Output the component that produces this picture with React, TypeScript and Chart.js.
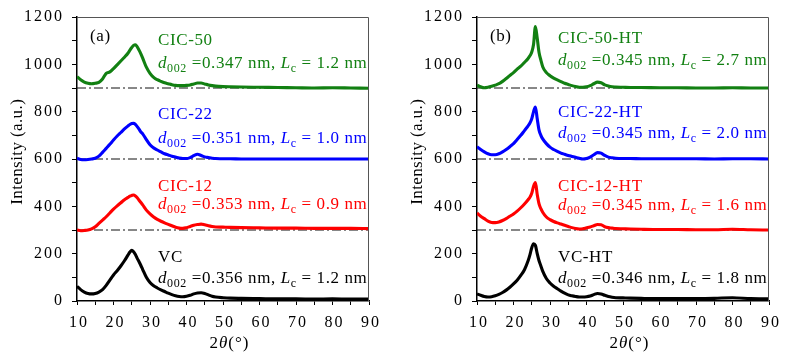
import React, { useEffect, useRef } from 'react';
import { Chart, registerables } from 'chart.js';
Chart.register(...registerables);

// ---------- data ----------
const twoTheta = [10,11,12,13,14,15,16,17,18,19,20,21,22,23,24,24.5,25,25.5,26,26.5,27,27.5,28,29,30,31,32,33,34,35,36,37,38,39,40,41,42,43,44,45,46,47,48,50,52,55,60,65,70,75,80,85,90];

const cic50 = [948,935,925,920,918,920,924,938,962,968,982,998,1014,1030,1048,1060,1071,1080,1083,1074,1060,1044,1026,988,962,945,935,928,922,918,914,911,910,910,911,913,917,921,921,917,913,910,908,906,905,904,903,902,901,900,901,900,899];
const cic22 = [603,598,597,598,600,603,612,628,645,662,680,697,712,727,740,746,750,751,746,737,726,714,706,682,660,647,638,630,622,617,612,608,604,602,602,606,614,620,615,609,606,603,602,601,601,600,600,600,600,600,600,600,600];
const cic12 = [300,297,298,300,305,314,328,342,356,372,388,402,415,428,438,443,446,448,444,436,426,416,406,384,368,355,345,337,330,324,318,312,308,307,310,315,320,323,325,322,318,315,313,312,311,310,309,308,308,307,307,307,306];
const vc = [62,48,38,32,30,32,38,48,66,88,110,128,148,170,195,207,214,208,196,180,166,150,133,100,78,64,55,47,40,33,27,22,19,18,20,24,30,34,35,32,26,20,17,14,12,11,10,9,9,8,9,8,8];

const cic50ht = [912,905,901,903,907,912,918,928,940,953,965,980,992,1008,1025,1036,1052,1085,1160,1110,1050,1018,990,965,952,942,934,927,920,915,910,906,903,903,905,910,918,925,922,913,908,905,904,903,902,902,901,901,900,900,901,900,900];
const cic22ht = [652,640,630,622,618,618,622,630,640,652,665,682,700,720,740,752,770,800,820,770,722,700,685,665,650,640,632,625,620,615,611,607,603,600,602,608,618,627,625,615,608,605,603,602,602,601,601,601,601,600,601,601,600];
const cic12ht = [372,358,348,338,332,331,334,340,348,358,368,380,394,410,428,438,455,485,500,450,410,390,375,355,344,336,330,325,320,315,310,306,304,305,309,313,318,323,322,314,310,308,306,305,304,303,302,302,301,301,303,301,300];
const vcht = [30,24,19,17,18,22,28,36,46,58,72,88,108,132,170,195,225,242,235,200,170,148,126,95,76,62,52,42,33,26,22,19,17,17,18,21,27,32,30,24,19,16,14,13,12,11,10,10,10,11,14,10,9];

const baselines = [300, 600, 900];

const namesA = ['CIC-50', 'CIC-22', 'CIC-12', 'VC'];
const d002A = ['0.347', '0.351', '0.353', '0.356'];
const lcA = ['1.2', '1.0', '0.9', '1.2'];
const namesB = ['CIC-50-HT', 'CIC-22-HT', 'CIC-12-HT', 'VC-HT'];
const d002B = ['0.345', '0.345', '0.345', '0.346'];
const lcB = ['2.7', '2.0', '1.6', '1.8'];

const xTickLabels = [10, 20, 30, 40, 50, 60, 70, 80, 90];
const yTickLabels = [0, 200, 400, 600, 800, 1000, 1200];

// ---------- style / layout ----------
const colors = ['rgb(18,128,18)', '#0000ff', '#ff0000', '#000000'];
const FONT = '"Liberation Serif", "DejaVu Serif", serif';
const H = 359;
const PLOT_LEFT = 77;
const PLOT_RIGHT = 369;
const PLOT_TOP = 17;
const PLOT_BOTTOM = 301;

type Run = { t: string; it?: boolean; sub?: boolean };

function runFont(r: Run, size: number) {
  const s = r.sub ? Math.round(size * 0.72) : size;
  return `${r.it ? 'italic ' : ''}${s}px ${FONT}`;
}

function drawRuns(ctx: CanvasRenderingContext2D, runs: Run[], x: number, y: number, size: number, spacing: number, align: 'left' | 'center' | 'right') {
  ctx.textAlign = 'left';
  ctx.textBaseline = 'alphabetic';
  const items: { c: string; w: number; r: Run }[] = [];
  for (const r of runs) {
    ctx.font = runFont(r, size);
    for (const c of Array.from(r.t)) items.push({ c, w: ctx.measureText(c).width, r });
  }
  const total = items.reduce((a, b) => a + b.w, 0) + spacing * (items.length - 1);
  let cx = align === 'right' ? x - total : align === 'center' ? x - total / 2 : x;
  for (const it of items) {
    ctx.font = runFont(it.r, size);
    ctx.fillText(it.c, cx, it.r.sub ? y + 3.5 : y);
    cx += it.w + spacing;
  }
}

function drawSpaced(ctx: CanvasRenderingContext2D, text: string, x: number, y: number, spacing: number, align: 'left' | 'center' | 'right') {
  ctx.textAlign = 'left';
  const chars = Array.from(text);
  const widths = chars.map((c) => ctx.measureText(c).width);
  const total = widths.reduce((a, b) => a + b, 0) + spacing * (chars.length - 1);
  let cx = align === 'right' ? x - total : align === 'center' ? x - total / 2 : x;
  chars.forEach((c, i) => {
    ctx.fillText(c, cx, y);
    cx += widths[i] + spacing;
  });
}

type PanelProps = {
  left: number;
  width: number;
  tag: string;
  names: string[];
  d002: string[];
  lc: string[];
  series: number[][];
  nameY: number[];
  dY: number[];
};

function Panel({ left, width, tag, names, d002, lc, series, nameY, dY }: PanelProps) {
  const ref = useRef<HTMLCanvasElement>(null);
  useEffect(() => {
    const canvas = ref.current!;
    const annot = {
      id: 'annot',
      afterDraw(chart: any) {
        const { ctx, chartArea } = chart;
        const xs = chart.scales.x;
        const ys = chart.scales.y;
        ctx.save();
        // top & right frame
        ctx.strokeStyle = '#555';
        ctx.lineWidth = 1;
        ctx.beginPath();
        ctx.moveTo(chartArea.left, chartArea.top + 0.5);
        ctx.lineTo(chartArea.right - 0.5, chartArea.top + 0.5);
        ctx.lineTo(chartArea.right - 0.5, chartArea.bottom);
        ctx.stroke();
        // tick labels
        ctx.fillStyle = '#000';
        ctx.font = `16px ${FONT}`;
        ctx.textBaseline = 'middle';
        yTickLabels.forEach((v) => drawSpaced(ctx, String(v), 62, ys.getPixelForValue(v), 2, 'right'));
        xTickLabels.forEach((v) => drawSpaced(ctx, String(v), xs.getPixelForValue(v) + 1, 323, 2, 'center'));
        // axis titles
        ctx.font = `17px ${FONT}`;
        ctx.save();
        ctx.translate(18, 152);
        ctx.rotate(-Math.PI / 2);
        ctx.textBaseline = 'middle';
        drawSpaced(ctx, 'Intensity (a.u.)', 0, 0, 0.4, 'center');
        ctx.restore();
        drawRuns(ctx, [{ t: '2' }, { t: 'θ', it: true }, { t: '(°)' }], (chartArea.left + chartArea.right) / 2 + 6, 348, 17, 1, 'center');
        // panel tag
        drawRuns(ctx, [{ t: tag }], 90, 41, 17, 0.6, 'left');
        // sample labels
        names.forEach((n, i) => {
          ctx.fillStyle = colors[i];
          drawRuns(ctx, [{ t: n }], 158, nameY[i] + 6, 17, 0.6, 'left');
          drawRuns(
            ctx,
            [
              { t: 'd', it: true },
              { t: '002', sub: true },
              { t: ' =' + d002[i] + ' nm, ' },
              { t: 'L', it: true },
              { t: 'c', sub: true },
              { t: ' = ' + lc[i] + ' nm' },
            ],
            158,
            dY[i] + 6,
            17,
            0.6,
            'left'
          );
        });
        ctx.restore();
      },
    };

    const datasets: any[] = [
      ...baselines.map((b) => ({
        data: [
          { x: 10, y: b },
          { x: 90, y: b },
        ],
        borderColor: '#111',
        borderWidth: 1,
        borderDash: [9, 3, 2, 3],
        pointRadius: 0,
        order: 10,
      })),
      ...series.map((s, i) => ({
        data: twoTheta.map((x, j) => ({ x, y: s[j] })),
        borderColor: colors[i],
        borderWidth: 3.1,
        pointRadius: 0,
        cubicInterpolationMode: 'monotone',
        order: 1,
      })),
    ];

    const gridOpts = (len: number) => ({
      drawOnChartArea: false,
      drawTicks: true,
      tickLength: len,
      tickColor: '#000',
      tickWidth: 1,
    });

    const chart = new Chart(canvas, {
      type: 'line',
      data: { datasets },
      options: {
        responsive: false,
        animation: false,
        devicePixelRatio: 1,
        layout: { padding: { left: 0, top: PLOT_TOP, right: width - PLOT_RIGHT, bottom: 0 } },
        plugins: { legend: { display: false }, tooltip: { enabled: false } },
        scales: {
          x: {
            type: 'linear',
            min: 10,
            max: 90,
            ticks: { stepSize: 5, display: false, autoSkip: false },
            grid: gridOpts(4),
            border: { display: true, color: '#000', width: 1.5 },
            afterFit: (s: any) => {
              s.height = H - PLOT_BOTTOM;
            },
          },
          y: {
            min: 0,
            max: 1200,
            ticks: { stepSize: 100, display: false, autoSkip: false },
            grid: gridOpts(5),
            border: { display: true, color: '#000', width: 1.5 },
            afterFit: (s: any) => {
              s.width = PLOT_LEFT;
            },
          },
        },
      } as any,
      plugins: [annot],
    });
    return () => chart.destroy();
  }, []);
  return (
    <div style={{ position: 'absolute', left, top: 0, width, height: H }}>
      <canvas ref={ref} width={width} height={H} style={{ width, height: H, display: 'block' }} />
    </div>
  );
}

export default function App() {
  return (
    <div style={{ position: 'fixed', left: 0, top: 0, width: 796, height: H, background: '#fff' }}>
      <Panel
        left={0}
        width={400}
        tag="(a)"
        names={namesA}
        d002={d002A}
        lc={lcA}
        series={[cic50, cic22, cic12, vc]}
        nameY={[39, 113, 185, 256]}
        dY={[62, 137, 203, 277]}
      />
      <Panel
        left={400}
        width={396}
        tag="(b)"
        names={namesB}
        d002={d002B}
        lc={lcB}
        series={[cic50ht, cic22ht, cic12ht, vcht]}
        nameY={[37, 111, 185, 256]}
        dY={[59, 132, 204, 277]}
      />
    </div>
  );
}
